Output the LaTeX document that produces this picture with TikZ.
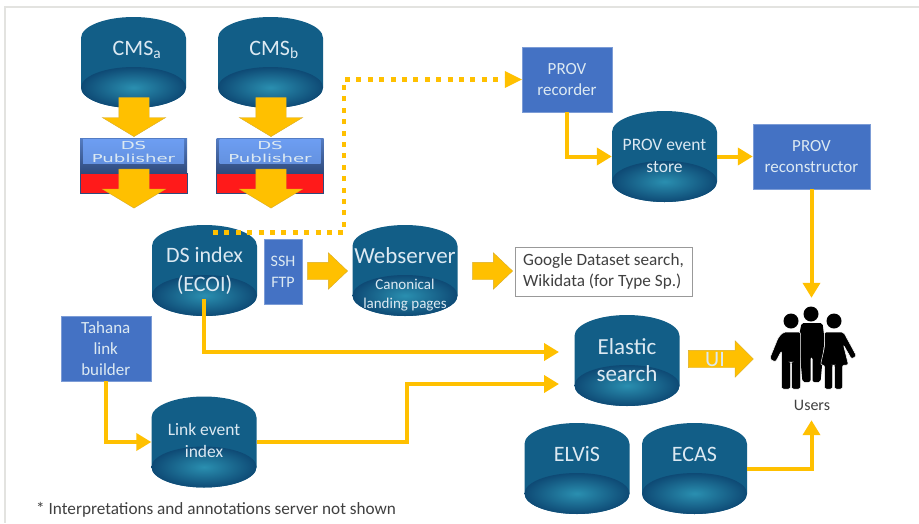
\documentclass[tikz,border=0pt]{standalone}
\usepackage{fontspec}
\setmainfont{Carlito}
\newfontfamily\pubfont[FakeStretch=1.65]{DejaVu Sans}
\usetikzlibrary{positioning,
	shapes.arrows,
	arrows.meta,
	calc}
\definecolor{dbblue}{HTML}{125E87}
\definecolor{dbglow}{HTML}{2A8FB0}
\definecolor{dbdark}{HTML}{0E4A75}
\definecolor{boxblue}{HTML}{4472C4}
\definecolor{orangeline}{HTML}{FFC000}
\definecolor{pubblue}{HTML}{6D9EF2}
\definecolor{pubedge}{HTML}{2F4A7C}
\definecolor{pubred}{HTML}{FF1A1A}
\definecolor{softwhite}{HTML}{DCE9F2}
\definecolor{frameline}{HTML}{E3E3E0}
\definecolor{softblack}{HTML}{404040}
\pgfdeclareradialshading{dbshade}{\pgfpoint{0bp}{0bp}}{color(0bp)=(dbglow); color(25bp)=(dbdark); color(50bp)=(dbdark)}
\tikzset{
	dbstore/.style={rectangle, inner sep=0pt, minimum width=105pt, minimum height=91pt, align=center, text=softwhite},
	provbox/.style={rectangle, inner sep=0pt, fill=boxblue, draw=boxblue!70!white, align=center, text=softwhite, font=\fontsize{17}{21}\selectfont},
	downblock/.style={single arrow, rotate=-90, inner xsep=0pt, inner ysep=15pt, fill=orangeline, draw=orangeline!70!gray, minimum width=63pt, minimum height=39pt, single arrow head extend=16.5pt, single arrow tip angle=118},
	rightblock/.style={single arrow, inner xsep=0pt, inner ysep=8.5pt, fill=orangeline, draw=orangeline!70!gray, minimum width=36pt, minimum height=40pt, single arrow head extend=9.5pt, single arrow tip angle=87},
	flowline/.style={orangeline, line width=4pt, -{Triangle[length=15pt,width=17pt]}},
	pubtext/.style={inner sep=0pt, text=softwhite, font=\pubfont\fontsize{11}{13}\selectfont}
}
% cylinder with its text: name, x, y of centre, text
\newcommand{\dbstore}[5][\fontsize{22}{29}\selectfont]{
	\fill[dbblue] (#3-52.5,#4-24.5) arc[start angle=180, end angle=360, x radius=52.5, y radius=21]
		-- (#3+52.5,#4+25) arc[start angle=0, end angle=180, x radius=52.5, y radius=20.5] -- cycle;
	\shade[shading=dbshade] (#3,#4+25) ellipse[x radius=52.5, y radius=20.5];
	\node (#2) [dbstore, font=#1] at (#3,#4) {#5};
}
% one bevelled publisher box with the red band under it
\newcommand{\dspub}[3]{
	\node (#1red) [rectangle, inner sep=0pt, fill=pubred, draw=pubedge, minimum width=107pt, minimum height=20pt] at (#2,#3+19) {};
	\node (#1) [rectangle, inner sep=0pt, top color=pubblue!60!pubedge, bottom color=pubedge, minimum width=107pt, minimum height=35pt] at (#2,#3-8.5) {};
	\shade[top color=pubblue, bottom color=pubblue!85!pubedge] (#2-50.5,#3-25) rectangle (#2+50.5,#3-1);
	\node (#1a) [pubtext] at (#2,#3-19) {DS};
	\node (#1b) [pubtext] at (#2,#3-6) {Publisher};
}
\begin{document}
\begin{tikzpicture}[x=1pt,y=-1pt]
	\useasboundingbox (0,0) rectangle (919,523);
	\fill[white] (0,0) rectangle (919,523);
	\draw[frameline, line width=1.2pt] (5,523) -- (5,7) -- (919,7);

	% sources
	\dbstore{cmsa}{133.5}{62.5}{\raisebox{29pt}{\hspace*{7pt}CMS\textsubscript{a}}}
	\dbstore{cmsb}{270.5}{62.5}{\raisebox{29pt}{\hspace*{7pt}CMS\textsubscript{b}}}
	\dspub{puba}{133.5}{164}
	\dspub{pubb}{270}{164}
	\node (arrowa1) [downblock] at (134,112.5) {};
	\node (arrowa2) [downblock] at (134,184) {};
	\node (arrowb1) [downblock] at (271,112.5) {};
	\node (arrowb2) [downblock] at (271,184) {};

	% middle row
	\dbstore{dsindex}{204.5}{270.5}{\raisebox{4pt}{\parbox{100pt}{\centering DS index\\(ECOI)}}}
	\node (sshftp) [provbox, minimum width=38pt, minimum height=65pt, font=\fontsize{16}{21}\selectfont] at (283,271.5) {SSH\\FTP};
	\node (arrowssh) [rightblock] at (323,271) {};
	\dbstore{webserver}{405}{270.5}{}
	\node (webtitle) [inner sep=0pt, text=softwhite, font=\fontsize{23}{27}\selectfont] at (405,256) {Webserver};
	\node (webnote) [inner sep=0pt, align=center, text=softwhite, font=\fontsize{15}{19}\selectfont] at (405,295) {Canonical\\landing pages};
	\node (arrowweb) [rightblock] at (488,271) {};
	\node (google) [rectangle, inner sep=0pt, fill=white, draw=gray!80, line width=1pt, minimum width=177pt, minimum height=49pt, align=left, text=softblack, font=\fontsize{17.2}{21}\selectfont] at (603.5,271.5) {Google Dataset search,\\Wikidata (for Type Sp.)};

	% provenance
	\node (provrecorder) [provbox, minimum width=90pt, minimum height=65pt] at (567,79.5) {PROV\\recorder};
	\dbstore[\fontsize{17.5}{22}\selectfont]{provstore}{664.5}{156.5}{\raisebox{13pt}{\parbox{100pt}{\centering PROV event\\store}}}
	\node (provrecon) [provbox, minimum width=117pt, minimum height=65pt] at (811.5,156.5) {PROV\\reconstructor};

	% lower part
	\node (tahana) [provbox, minimum width=90pt, minimum height=65pt] at (105.75,348.5) {Tahana\\link\\builder};
	\dbstore[\fontsize{17.5}{22}\selectfont]{linkindex}{204}{442}{\raisebox{15pt}{\parbox{100pt}{\centering Link event\\index}}}
	\dbstore[\fontsize{23}{27}\selectfont]{elastic}{627}{360.5}{\raisebox{5pt}{\parbox{100pt}{\centering Elastic\\search}}}
	\dbstore{elvis}{577}{468.5}{\raisebox{29pt}{ELViS}}
	\dbstore{ecas}{694.5}{468.5}{\raisebox{29pt}{ECAS}}
	\node (arrowui) [rightblock, minimum height=65pt, single arrow tip angle=90] at (716.5,359) {};
	\node (uilabel) [inner sep=0pt, text=softwhite, font=\fontsize{22}{24}\selectfont] at (715,360) {UI};

	% users
	\node (users) [rectangle, inner sep=0pt, minimum width=84pt, minimum height=122pt] at (811.5,359) {};
	\begin{scope}[shift={(users.center)}, black]
		\fill (-20.5,-38) circle (7.5);
		\fill (-0.5,-45) circle (7.5);
		\fill (22.5,-38) circle (7.5);
		% middle man
		\fill[rounded corners=2pt] (-10,-36) -- (11,-36) -- (13,-20) -- (9,23) -- (1,23) -- (1,-2) -- (-1,-2) -- (-1,23) -- (-9,23) -- (-13,-20) -- cycle;
		% left man
		\fill[draw=white, line width=0.5pt, rounded corners=2pt] (-28,-27) -- (-11,-27) -- (-11,30) -- (-20,30) -- (-20,3) -- (-21,3) -- (-21,30) -- (-30,30) -- (-30,-8) -- (-36,3) -- (-42,0) -- (-33,-22) -- cycle;
		% right woman
		\fill[draw=white, line width=0.5pt, rounded corners=2pt] (13,-27) -- (32,-27) -- (45,-3) -- (40,0) -- (32,-14) -- (37,6) -- (31,6) -- (31,30) -- (23,30) -- (23,6) -- (21,6) -- (21,30) -- (13,30) -- (13,6) -- (9,6) -- (13,-12) -- cycle;
	\end{scope}
	\node (userslabel) [inner sep=0pt, text=softblack, font=\fontsize{16}{18}\selectfont] at (812,405) {Users};

	% connectors
	\coordinate (dotstart) at (213,232.5);
	\coordinate (dotbend) at (344,79.5);
	\coordinate (dsstart) at (204,299);
	\coordinate (elasticina) at (559,352);
	\coordinate (elasticinb) at (559,384);
	\coordinate (linkbend) at (407,442);
	\draw[orangeline, line width=4.5pt, dash pattern=on 5pt off 6.4pt] (dotstart) -| (dotbend) -- ($(provrecorder.west)+(-15,0)$);
	\fill[orangeline] ($(provrecorder.west)+(-17,-8.5)$) -- (provrecorder.west) -- ($(provrecorder.west)+(-17,8.5)$) -- cycle;
	\draw[flowline] (provrecorder.south) |- (provstore.west);
	\draw[flowline] (provstore.east) -- (provrecon.west);
	\draw[flowline] (provrecon.south) -- (users.north);
	\draw[flowline] (ecas.east) -| (users.south);
	\draw[flowline] (dsstart) |- (elasticina);
	\draw[flowline] (tahana.south) |- (linkindex.west);
	\draw[flowline] (linkindex.east) -- (linkbend) |- (elasticinb);

	\node (footnote) [inner sep=0pt, anchor=west, text=softblack, font=\fontsize{17.2}{20}\selectfont] at (36,510) {* Interpretations and annotations server not shown};
\end{tikzpicture}
\end{document}
